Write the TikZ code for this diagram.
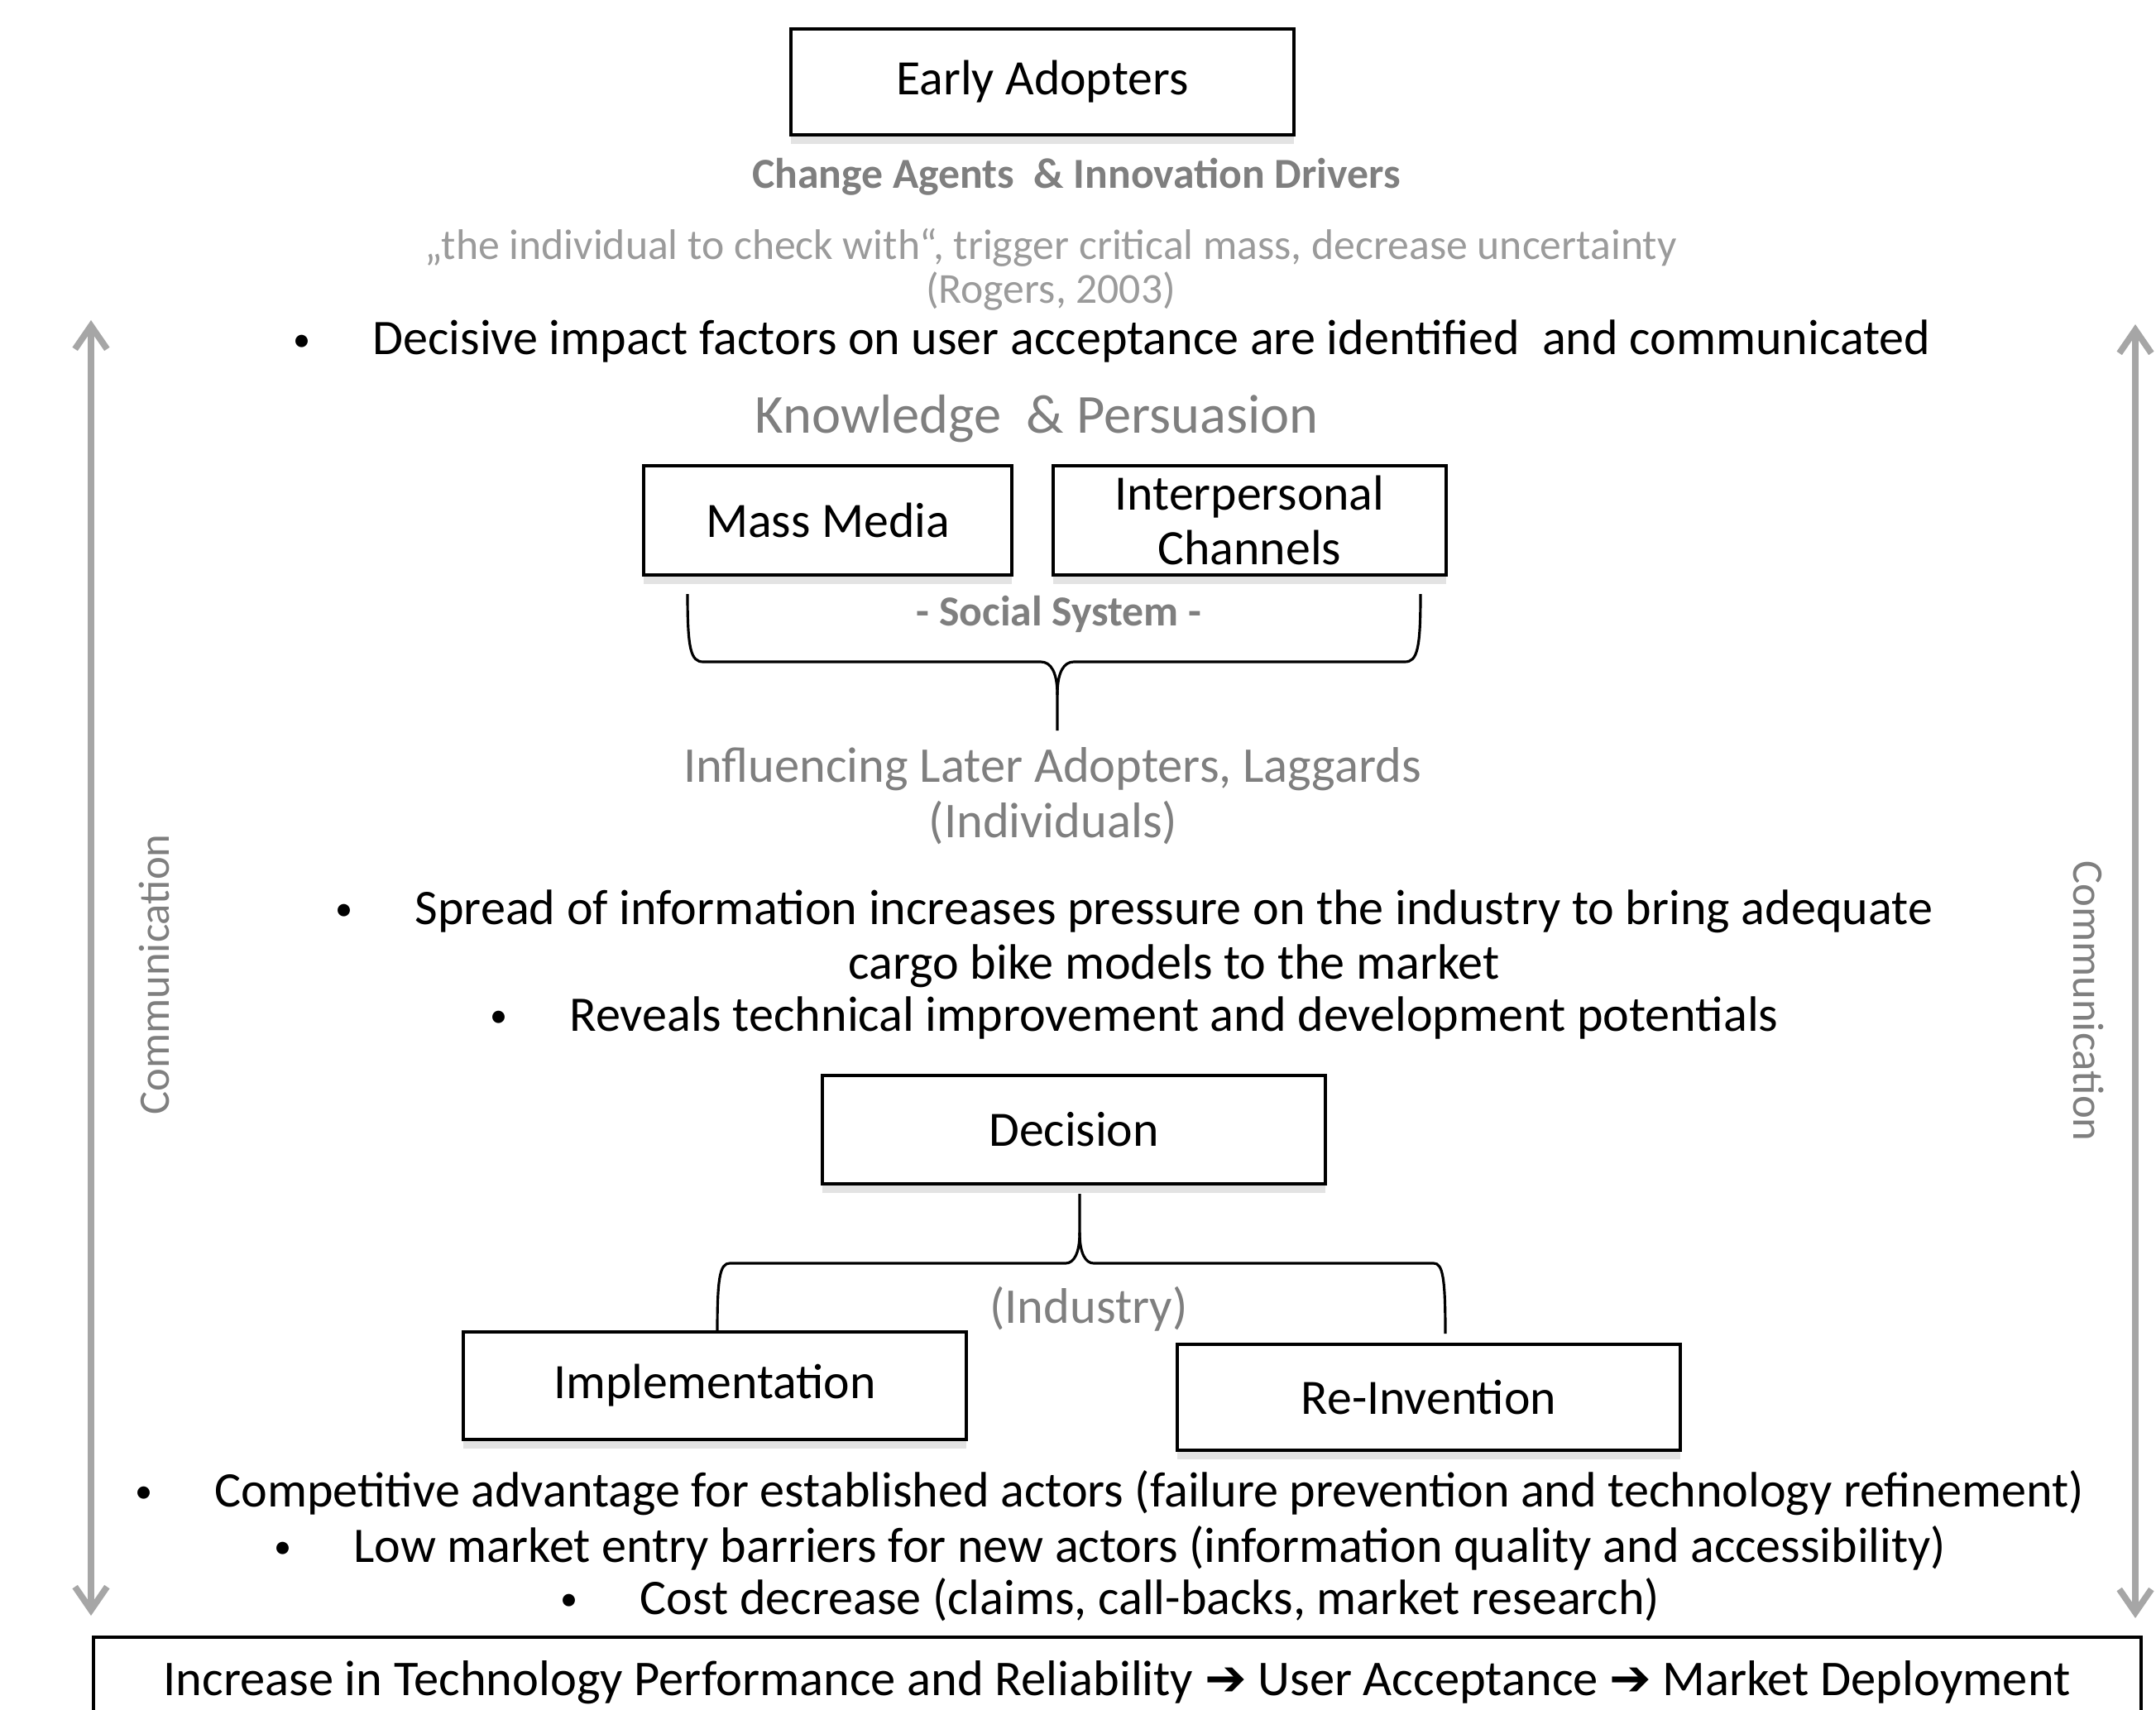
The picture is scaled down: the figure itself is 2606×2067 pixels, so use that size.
\documentclass[tikz,border=0pt]{standalone}
\usepackage{fontspec}
\setmainfont{Carlito}
\newfontfamily\dejavu{DejaVu Sans}
\usetikzlibrary{arrows.meta,shadows}
\definecolor{txtgray}{RGB}{127,127,127}
\definecolor{ltgray}{RGB}{155,155,155}
\definecolor{arrgray}{RGB}{166,166,166}
\newcommand\bul{\llap{{\fontsize{12pt}{12pt}\selectfont\raisebox{1.2pt}{•}}\hspace{0.75cm}}}
\newcommand\rarr{{\dejavu\bfseries ➔}}
\tikzset{
  boxnode/.style={draw=black, line width=1pt, fill=white, inner sep=0pt, align=center,
    font=\fontsize{17pt}{19pt}\selectfont,
    drop shadow={shadow xshift=0pt, shadow yshift=-3pt, opacity=0.22}},
  bodytxt/.style={anchor=base, inner sep=0pt, font=\fontsize{17.1pt}{20pt}\selectfont},
  subhead/.style={anchor=base, inner sep=0pt, text=txtgray, font=\fontsize{14.7pt}{17pt}\selectfont\bfseries},
  quotetxt/.style={anchor=base, inner sep=0pt, text=ltgray, font=\fontsize{14.7pt}{17pt}\selectfont},
  grayhead/.style={anchor=base, inner sep=0pt, text=txtgray, font=\fontsize{17.2pt}{20pt}\selectfont},
  commtxt/.style={inner sep=0pt, text=txtgray, font=\fontsize{15pt}{18pt}\selectfont},
  commarrow/.style={draw=arrgray, line width=2.2pt,
    {Straight Barb[length=8pt,width=11pt]}-{Straight Barb[length=8pt,width=11pt]}},
  bracepath/.style={draw=black, line width=0.9pt},
}
\begin{document}
\begin{tikzpicture}[x=0.01cm,y=-0.01cm]
\useasboundingbox (0,0) rectangle (2606,2067);
\clip (0,0) rectangle (2606,2067);

% boxes
\node[boxnode, minimum width=6.08cm, minimum height=1.28cm] (early) at (1260,99) {Early Adopters};
\node[boxnode, minimum width=4.45cm, minimum height=1.32cm] (mass) at (1000.5,629) {Mass Media};
\node[boxnode, minimum width=4.75cm, minimum height=1.32cm] (inter) at (1510.5,629) {Interpersonal\\Channels};
\node[boxnode, minimum width=6.08cm, minimum height=1.31cm] (decision) at (1298,1365.5) {Decision};
\node[boxnode, minimum width=6.08cm, minimum height=1.30cm] (impl) at (864,1675) {Implementation};
\node[boxnode, minimum width=6.08cm, minimum height=1.28cm] (reinv) at (1727,1689) {Re-Invention};

% bottom box
\draw[line width=1pt, fill=white, drop shadow={shadow xshift=0pt, shadow yshift=-3pt, opacity=0.22}]
  (113,1979) rectangle (2588,2140);
\node[bodytxt, font=\fontsize{17.2pt}{20pt}\selectfont] (result) at (1350,2049) {Increase in Technology Performance and Reliability \rarr{} User Acceptance \rarr{} Market Deployment};

% texts
\node[subhead] (agents) at (1301,228) {Change Agents~ \& Innovation Drivers};
\node[quotetxt] (quote) at (1270,314) {„the individual to check with“, trigger critical mass, decrease uncertainty};
\node[quotetxt] (rogers) at (1270,367) {(Rogers, 2003)};
\node[bodytxt] (decisive) at (1392,429) {\bul Decisive impact factors on user acceptance are identified~ and communicated};
\node[grayhead, font=\fontsize{18.9pt}{21pt}\selectfont] (knowledge) at (1253,523) {Knowledge~ \& Persuasion};
\node[subhead] (social) at (1280,756) {- Social System -};
\node[grayhead] (influencing) at (1272,945) {Influencing Later Adopters, Laggards};
\node[grayhead] (individuals) at (1273,1012) {(Individuals)};
\node[bodytxt] (spread) at (1419,1117) {\bul Spread of information increases pressure on the industry to bring adequate};
\node[bodytxt] (cargo) at (1419,1183) {cargo bike models to the market};
\node[bodytxt] (reveals) at (1419,1246) {\bul Reveals technical improvement and development potentials};
\node[grayhead] (industry) at (1316,1599) {(Industry)};
\node[bodytxt] (competitive) at (1389,1821) {\bul Competitive advantage for established actors (failure prevention and technology refinement)};
\node[bodytxt] (lowmarket) at (1390,1888) {\bul Low market entry barriers for new actors (information quality and accessibility)};
\node[bodytxt] (cost) at (1390,1951) {\bul Cost decrease (claims, call-backs, market research)};

% communication arrows
\coordinate (ltop) at (110,387);
\coordinate (lbot) at (110,1953);
\coordinate (rtop) at (2581,392);
\coordinate (rbot) at (2581,1956);
\draw[commarrow] (ltop) -- (lbot);
\draw[commarrow] (rtop) -- (rbot);
\node[commtxt, rotate=90] (commleft) at (186,1178) {Communication};
\node[commtxt, rotate=-90] (commright) at (2525,1210) {Communication};

% brace under Mass Media / Interpersonal Channels
\coordinate (b1l) at (831,718);
\coordinate (b1r) at (1717,718);
\coordinate (b1tip) at (1278,883);
\draw[bracepath] (b1l) .. controls (831,785) and (835,800) .. (850,800) -- (1258,800)
  .. controls (1270,800) and (1278,812) .. (1278,840) -- (b1tip);
\draw[bracepath] (b1r) .. controls (1717,785) and (1713,800) .. (1698,800) -- (1298,800)
  .. controls (1286,800) and (1278,812) .. (1278,840);

% brace under Decision
\coordinate (b2tip) at (1305,1443);
\coordinate (b2l) at (867,1610);
\coordinate (b2r) at (1747,1612);
\draw[bracepath] (b2tip) -- (1305,1490) .. controls (1305,1515) and (1298,1527) .. (1288,1527)
  -- (882,1527) .. controls (870,1527) and (867,1545) .. (b2l);
\draw[bracepath] (1305,1490) .. controls (1305,1515) and (1312,1527) .. (1322,1527)
  -- (1733,1527) .. controls (1744,1527) and (1747,1545) .. (b2r);
\end{tikzpicture}
\end{document}
